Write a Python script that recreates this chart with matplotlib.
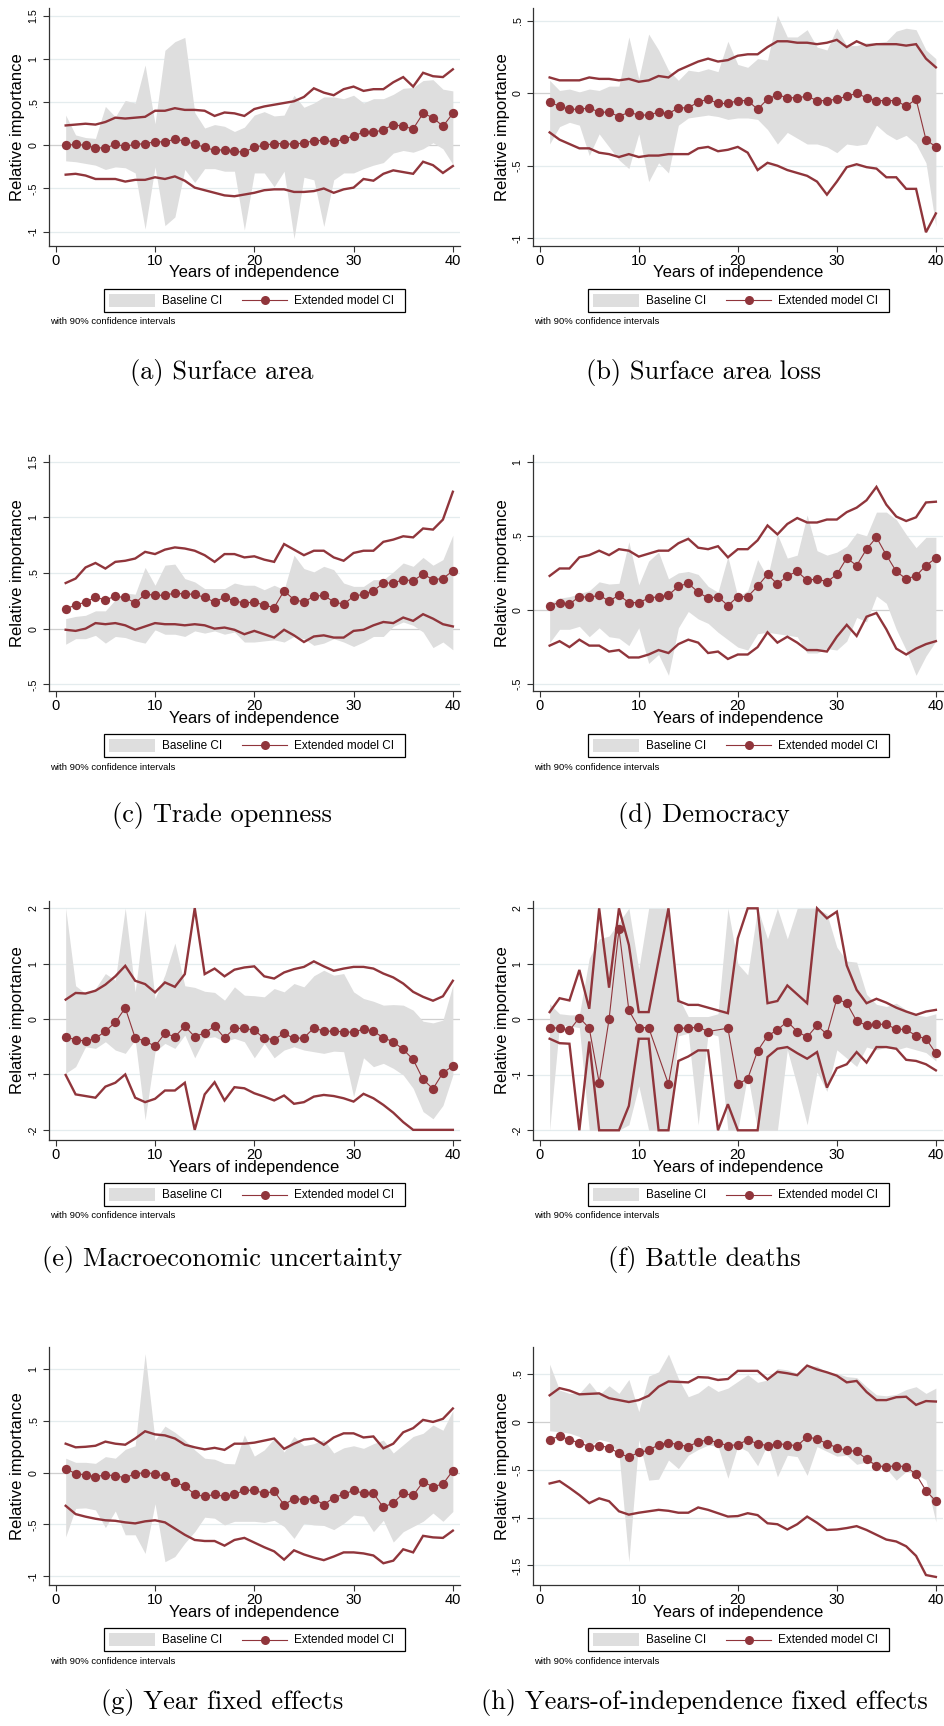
import numpy as np
import matplotlib
matplotlib.use('Agg')
import matplotlib.pyplot as plt
import matplotlib.ticker as mtick
from matplotlib.patches import Rectangle
from matplotlib.lines import Line2D

nan = np.nan
years = np.arange(1, 41)

# (a) Surface area
area_est = [0.0, 0.01, 0.0, -0.03, -0.03, 0.01, -0.01, 0.01, 0.02, 0.04, 0.04, 0.07, 0.05, 0.01, -0.02, -0.06, -0.05, -0.07, -0.08, -0.02,
            0.0, 0.02, 0.02, 0.01, 0.03, 0.05, 0.06, 0.04, 0.07, 0.11, 0.15, 0.15, 0.18, 0.24, 0.22, 0.19, 0.37, 0.32, 0.22, 0.37]
area_hi = [0.23, 0.24, 0.25, 0.24, 0.27, 0.32, 0.31, 0.32, 0.33, 0.40, 0.40, 0.43, 0.41, 0.41, 0.40, 0.34, 0.38, 0.37, 0.34, 0.42,
           0.45, 0.47, 0.49, 0.51, 0.56, 0.66, 0.61, 0.58, 0.65, 0.68, 0.63, 0.65, 0.65, 0.73, 0.79, 0.68, 0.84, 0.80, 0.79, 0.88]
area_lo = [-0.34, -0.33, -0.35, -0.39, -0.39, -0.39, -0.42, -0.40, -0.40, -0.37, -0.39, -0.36, -0.41, -0.49, -0.52, -0.55, -0.58, -0.59, -0.57, -0.55,
           -0.52, -0.51, -0.51, -0.54, -0.54, -0.53, -0.50, -0.55, -0.51, -0.49, -0.39, -0.41, -0.33, -0.29, -0.31, -0.33, -0.19, -0.23, -0.32, -0.24]
area_base_hi = [0.35, 0.12, 0.09, 0.08, 0.45, 0.33, 0.52, 0.49, 0.93, 0.25, 1.10, 1.20, 1.25, 0.38, 0.20, 0.24, 0.22, 0.16, 0.21, 0.35,
                0.39, 0.34, 0.35, 0.58, 0.44, 0.49, 0.56, 0.56, 0.54, 0.58, 0.49, 0.54, 0.54, 0.59, 0.66, 0.67, 0.75, 0.76, 0.65, 0.63]
area_base_lo = [-0.18, -0.19, -0.21, -0.23, -0.28, -0.25, -0.26, -0.32, -0.97, -0.25, -0.93, -0.83, -0.28, -0.43, -0.27, -0.27, -0.30, -0.30, -0.98, -0.32,
                -0.32, -0.48, -0.30, -1.08, -0.37, -0.40, -0.94, -0.40, -0.32, -0.32, -0.27, -0.23, -0.20, -0.09, -0.06, -0.08, -0.04, 0.03, -0.04, -0.22]

# (b) Surface area loss
loss_est = [-0.06, -0.09, -0.11, -0.11, -0.10, -0.13, -0.13, -0.16, -0.13, -0.15, -0.15, -0.13, -0.14, -0.10, -0.10, -0.06, -0.04, -0.07, -0.07, -0.05,
            -0.05, -0.11, -0.04, -0.01, -0.03, -0.03, -0.02, -0.05, -0.05, -0.04, -0.02, 0.0, -0.03, -0.05, -0.05, -0.05, -0.09, -0.04, -0.32, -0.37]
loss_hi = [0.11, 0.09, 0.09, 0.09, 0.11, 0.10, 0.10, 0.09, 0.10, 0.08, 0.09, 0.12, 0.11, 0.16, 0.19, 0.22, 0.24, 0.22, 0.23, 0.26,
           0.27, 0.27, 0.32, 0.36, 0.36, 0.35, 0.35, 0.34, 0.35, 0.37, 0.32, 0.36, 0.33, 0.34, 0.34, 0.34, 0.33, 0.34, 0.24, 0.18]
loss_lo = [-0.27, -0.32, -0.35, -0.38, -0.38, -0.41, -0.42, -0.44, -0.42, -0.44, -0.43, -0.43, -0.42, -0.42, -0.42, -0.38, -0.37, -0.40, -0.39, -0.37,
           -0.41, -0.53, -0.48, -0.50, -0.53, -0.55, -0.57, -0.61, -0.70, -0.61, -0.51, -0.49, -0.51, -0.52, -0.58, -0.58, -0.66, -0.66, -0.96, -0.83]
loss_base_hi = [0.09, 0.02, 0.03, 0.01, 0.03, 0.02, 0.05, 0.05, 0.39, 0.10, 0.41, 0.30, 0.16, 0.09, 0.16, 0.15, 0.17, 0.15, 0.36, 0.20,
                0.18, 0.24, 0.23, 0.54, 0.39, 0.39, 0.44, 0.32, 0.30, 0.45, 0.33, 0.33, 0.35, 0.35, 0.36, 0.43, 0.45, 0.44, 0.30, 0.24]
loss_base_lo = [-0.35, -0.23, -0.20, -0.22, -0.43, -0.28, -0.37, -0.46, -0.52, -0.28, -0.61, -0.48, -0.55, -0.22, -0.17, -0.16, -0.15, -0.16, -0.18, -0.17,
                -0.17, -0.18, -0.25, -0.35, -0.27, -0.31, -0.35, -0.35, -0.37, -0.41, -0.35, -0.36, -0.35, -0.22, -0.28, -0.32, -0.29, -0.35, -0.48, -0.92]

# (c) Trade openness
trade_est = [0.18, 0.21, 0.24, 0.28, 0.26, 0.29, 0.28, 0.23, 0.31, 0.30, 0.30, 0.32, 0.31, 0.31, 0.28, 0.24, 0.28, 0.25, 0.23, 0.24,
             0.21, 0.19, 0.34, 0.26, 0.24, 0.29, 0.30, 0.24, 0.22, 0.29, 0.31, 0.34, 0.41, 0.41, 0.44, 0.43, 0.49, 0.44, 0.45, 0.52]
trade_hi = [0.41, 0.45, 0.55, 0.59, 0.54, 0.60, 0.61, 0.63, 0.69, 0.67, 0.71, 0.73, 0.72, 0.70, 0.66, 0.60, 0.67, 0.67, 0.64, 0.65,
            0.62, 0.60, 0.76, 0.71, 0.66, 0.70, 0.70, 0.64, 0.61, 0.68, 0.70, 0.70, 0.78, 0.80, 0.83, 0.82, 0.90, 0.89, 0.98, 1.23]
trade_lo = [-0.01, -0.02, 0.0, 0.05, 0.04, 0.05, 0.03, -0.01, 0.02, 0.05, 0.04, 0.04, 0.03, 0.04, 0.03, 0.0, 0.01, -0.01, -0.05, -0.02,
            -0.05, -0.08, -0.01, -0.06, -0.12, -0.07, -0.06, -0.08, -0.08, -0.02, -0.01, 0.03, 0.06, 0.05, 0.10, 0.07, 0.13, 0.09, 0.04, 0.02]
trade_base_hi = [0.09, 0.11, 0.12, 0.16, 0.16, 0.26, 0.32, 0.31, 0.55, 0.39, 0.57, 0.58, 0.45, 0.42, 0.36, 0.36, 0.36, 0.41, 0.39, 0.39,
                 0.35, 0.39, 0.35, 0.66, 0.54, 0.51, 0.56, 0.53, 0.41, 0.38, 0.38, 0.44, 0.44, 0.51, 0.59, 0.56, 0.64, 0.57, 0.62, 0.84]
trade_base_lo = [-0.14, -0.09, -0.09, -0.06, -0.13, -0.07, -0.08, -0.11, -0.13, -0.01, -0.05, -0.05, -0.07, -0.02, -0.04, -0.02, -0.05, -0.03, -0.12, -0.12,
                 -0.11, -0.10, -0.12, -0.07, -0.09, -0.15, -0.13, -0.09, -0.12, -0.16, -0.12, -0.07, -0.07, 0.02, 0.06, 0.03, -0.03, -0.17, -0.12, -0.19]

# (d) Democracy
demo_est = [0.03, 0.05, 0.04, 0.09, 0.085, 0.10, 0.06, 0.10, 0.05, 0.05, 0.08, 0.09, 0.10, 0.16, 0.18, 0.12, 0.08, 0.09, 0.03, 0.09,
            0.09, 0.16, 0.24, 0.175, 0.23, 0.26, 0.20, 0.21, 0.19, 0.24, 0.35, 0.30, 0.41, 0.49, 0.37, 0.26, 0.21, 0.23, 0.30, 0.35]
demo_hi = [0.23, 0.28, 0.28, 0.355, 0.37, 0.40, 0.37, 0.41, 0.40, 0.36, 0.38, 0.40, 0.40, 0.45, 0.48, 0.42, 0.41, 0.43, 0.355, 0.41,
           0.41, 0.47, 0.57, 0.51, 0.58, 0.62, 0.59, 0.59, 0.61, 0.61, 0.66, 0.69, 0.74, 0.83, 0.71, 0.63, 0.60, 0.625, 0.725, 0.73]
demo_lo = [-0.24, -0.21, -0.25, -0.20, -0.24, -0.24, -0.28, -0.27, -0.32, -0.32, -0.30, -0.27, -0.29, -0.23, -0.20, -0.22, -0.29, -0.28, -0.33, -0.30,
           -0.30, -0.25, -0.15, -0.22, -0.18, -0.22, -0.27, -0.27, -0.28, -0.18, -0.10, -0.175, -0.045, -0.02, -0.13, -0.26, -0.30, -0.26, -0.23, -0.21]
demo_base_hi = [0.045, 0.08, 0.09, 0.11, 0.13, 0.19, 0.175, 0.18, 0.46, 0.17, 0.33, 0.39, 0.21, 0.25, 0.26, 0.24, 0.16, 0.12, 0.36, 0.09,
                0.13, 0.34, 0.22, 0.51, 0.35, 0.37, 0.64, 0.40, 0.37, 0.39, 0.43, 0.52, 0.50, 0.66, 0.66, 0.61, 0.51, 0.42, 0.49, 0.49]
demo_base_lo = [-0.22, -0.13, -0.13, -0.11, -0.18, -0.12, -0.18, -0.19, -0.24, -0.12, -0.36, -0.30, -0.44, -0.12, -0.01, -0.06, -0.09, -0.15, -0.20, -0.25,
                -0.27, -0.16, -0.15, -0.16, -0.17, -0.18, -0.29, -0.29, -0.26, -0.27, -0.21, -0.05, -0.08, 0.095, 0.045, -0.13, -0.27, -0.44, -0.31, -0.21]

# (e) Macroeconomic uncertainty
macro_est = [-0.33, -0.37, -0.40, -0.35, -0.22, -0.06, 0.20, -0.34, -0.40, -0.49, -0.26, -0.32, -0.13, -0.32, -0.25, -0.13, -0.34, -0.17, -0.17, -0.20,
             -0.35, -0.37, -0.26, -0.35, -0.34, -0.16, -0.22, -0.22, -0.23, -0.24, -0.18, -0.22, -0.34, -0.41, -0.55, -0.73, -1.09, -1.26, -0.97, -0.85]
macro_hi = [0.35, 0.47, 0.46, 0.51, 0.62, 0.77, 0.96, 0.69, 0.63, 0.48, 0.66, 0.58, 0.81, 2.0, 0.81, 0.91, 0.77, 0.89, 0.93, 0.95,
            0.77, 0.73, 0.84, 0.90, 0.94, 1.04, 0.95, 0.87, 0.91, 0.94, 0.94, 0.91, 0.82, 0.75, 0.64, 0.49, 0.40, 0.33, 0.41, 0.69]
macro_lo = [-1.01, -1.36, -1.39, -1.42, -1.22, -1.15, -1.00, -1.42, -1.50, -1.44, -1.29, -1.29, -1.15, -2.0, -1.36, -1.14, -1.47, -1.23, -1.25, -1.34,
            -1.40, -1.47, -1.38, -1.53, -1.50, -1.40, -1.37, -1.39, -1.43, -1.49, -1.35, -1.43, -1.55, -1.69, -1.86, -2.0, -2.0, -2.0, -2.0, -2.0]
macro_base_hi = [2.0, 0.60, 0.46, 0.55, 0.82, 0.70, 2.0, 0.49, 1.97, 0.37, 0.80, 1.37, 0.60, 0.57, 0.50, 0.48, 0.34, 0.58, 0.43, 0.42,
                 0.40, 0.55, 0.49, 0.64, 0.58, 0.78, 0.88, 0.79, 0.82, 0.49, 0.37, 0.32, 0.25, 0.26, 0.25, 0.16, -0.04, -0.07, -0.02, 0.61]
macro_base_lo = [-0.98, -0.86, -0.50, -0.53, -0.41, -0.56, -0.62, -0.38, -1.82, -0.59, -0.44, -0.53, -0.29, -0.70, -0.35, -0.32, -0.41, -0.35, -0.41, -0.70,
                 -0.44, -0.70, -0.56, -0.50, -0.56, -0.59, -0.62, -0.58, -0.59, -1.40, -0.70, -0.86, -0.80, -0.89, -1.01, -1.25, -1.67, -1.80, -1.56, -1.01]

# (f) Battle deaths (bounds capped at +/-2, some years missing)
battle_est = [-0.15, -0.16, -0.20, 0.03, -0.16, -1.14, 0.0, 1.62, 0.16, -0.15, -0.15, nan, -1.17, -0.16, -0.16, -0.14, -0.22, nan, -0.16, -1.17,
              -1.07, -0.57, -0.30, -0.19, -0.04, -0.22, -0.32, -0.11, -0.27, 0.37, 0.29, -0.03, -0.11, -0.09, -0.09, -0.18, -0.18, -0.30, -0.35, -0.61]
battle_hi = [0.13, 0.38, 0.34, 0.89, 0.19, 2.0, 0.57, 2.0, 1.34, 0.13, 0.13, nan, 2.0, 0.33, 0.26, 0.26, 0.21, nan, 0.11, 1.46,
             2.0, 2.0, 0.29, 0.33, 0.61, 0.45, 0.29, 2.0, 1.82, 1.94, 0.97, 0.53, 0.29, 0.37, 0.30, 0.21, 0.14, 0.08, 0.14, 0.17]
battle_lo = [-0.35, -0.43, -0.44, -2.0, -0.40, -2.0, -2.0, -2.0, -1.56, -0.35, -0.35, -2.0, -2.0, -0.75, -0.67, -0.56, -0.56, -2.0, -1.53, -2.0,
             -2.0, -2.0, -0.68, -0.53, -0.50, -0.61, -0.71, -0.59, -1.23, -0.88, -0.81, -0.59, -0.78, -0.50, -0.50, -0.53, -0.73, -0.75, -0.81, -0.92]
battle_base_hi = [0.28, 0.10, 0.08, 0.08, 1.10, 1.45, 1.50, 1.75, 2.0, 0.90, 2.0, 2.0, 2.0, 0.40, 0.05, 0.05, 0.05, 0.10, 2.0, 1.0,
                  0.80, 2.0, 1.45, 2.0, 1.45, 2.0, 2.0, 2.0, 1.90, 1.30, 1.05, 1.03, 0.45, 0.27, 0.23, 0.29, 0.17, 0.08, 0.05, 0.10]
battle_base_lo = [-2.0, -0.10, -0.12, -0.15, -2.0, -2.0, -2.0, -2.0, -1.90, -1.20, -2.0, -2.0, -2.0, -0.30, -0.25, -1.90, -0.25, -0.30, -2.0, -2.0,
                  -1.0, -2.0, -2.0, -2.0, -0.55, -1.20, -1.90, -0.95, -1.30, -0.55, -0.70, -0.85, -0.50, -0.55, -0.50, -0.55, -0.50, -0.55, -0.60, -0.75]

# (g) Year fixed effects
yfe_est = [0.04, -0.01, -0.02, -0.04, -0.02, -0.03, -0.05, -0.01, 0.0, -0.01, -0.035, -0.09, -0.13, -0.21, -0.23, -0.21, -0.23, -0.21, -0.17, -0.17,
           -0.20, -0.18, -0.31, -0.25, -0.26, -0.25, -0.31, -0.24, -0.21, -0.17, -0.20, -0.20, -0.335, -0.29, -0.20, -0.22, -0.09, -0.135, -0.11, 0.02]
yfe_hi = [0.28, 0.245, 0.25, 0.26, 0.30, 0.28, 0.27, 0.33, 0.40, 0.37, 0.36, 0.33, 0.27, 0.245, 0.225, 0.24, 0.22, 0.28, 0.28, 0.29,
          0.31, 0.33, 0.23, 0.28, 0.32, 0.33, 0.27, 0.34, 0.38, 0.38, 0.34, 0.35, 0.235, 0.28, 0.39, 0.43, 0.51, 0.49, 0.52, 0.62]
yfe_lo = [-0.32, -0.40, -0.425, -0.445, -0.46, -0.465, -0.48, -0.49, -0.47, -0.46, -0.48, -0.54, -0.60, -0.65, -0.66, -0.66, -0.705, -0.65, -0.63, -0.675,
          -0.72, -0.76, -0.84, -0.75, -0.79, -0.82, -0.845, -0.81, -0.77, -0.77, -0.78, -0.80, -0.875, -0.85, -0.74, -0.77, -0.61, -0.625, -0.63, -0.56]
yfe_base_hi = [0.14, 0.10, 0.10, 0.09, 0.155, 0.14, 0.225, 0.26, 1.15, 0.315, 0.45, 0.39, 0.315, 0.22, 0.14, 0.13, 0.09, 0.085, 0.365, 0.16,
               0.22, 0.33, 0.20, 0.35, 0.26, 0.28, 0.32, 0.19, 0.24, 0.26, 0.235, 0.28, 0.315, 0.19, 0.27, 0.35, 0.38, 0.46, 0.41, 0.60]
yfe_base_lo = [-0.62, -0.345, -0.34, -0.36, -0.53, -0.37, -0.60, -0.60, -0.78, -0.30, -0.86, -0.81, -0.68, -0.57, -0.43, -0.44, -0.505, -0.47, -0.47, -0.47,
               -0.48, -0.46, -0.52, -0.635, -0.49, -0.505, -0.51, -0.55, -0.49, -0.41, -0.42, -0.57, -0.46, -0.67, -0.57, -0.52, -0.47, -0.39, -0.47, -0.375]

# (h) Years-of-independence fixed effects
ife_est = [-0.19, -0.15, -0.19, -0.22, -0.26, -0.25, -0.27, -0.33, -0.37, -0.32, -0.30, -0.24, -0.22, -0.24, -0.26, -0.21, -0.19, -0.22, -0.25, -0.24,
           -0.19, -0.23, -0.25, -0.23, -0.24, -0.25, -0.16, -0.18, -0.23, -0.27, -0.30, -0.31, -0.39, -0.46, -0.47, -0.46, -0.47, -0.55, -0.72, -0.83]
ife_hi = [0.275, 0.35, 0.325, 0.285, 0.29, 0.295, 0.245, 0.225, 0.205, 0.225, 0.27, 0.365, 0.42, 0.415, 0.41, 0.465, 0.46, 0.435, 0.445, 0.53,
          0.53, 0.53, 0.44, 0.52, 0.505, 0.485, 0.585, 0.545, 0.515, 0.48, 0.41, 0.425, 0.31, 0.225, 0.225, 0.255, 0.26, 0.175, 0.215, 0.21]
ife_lo = [-0.645, -0.62, -0.69, -0.765, -0.85, -0.80, -0.83, -0.935, -0.97, -0.95, -0.935, -0.92, -0.93, -0.95, -0.95, -0.895, -0.92, -0.955, -0.99, -0.985,
          -0.955, -0.975, -1.06, -1.07, -1.125, -1.07, -0.99, -1.055, -1.13, -1.125, -1.11, -1.09, -1.13, -1.18, -1.23, -1.25, -1.30, -1.40, -1.60, -1.62]
ife_base_hi = [0.60, 0.33, 0.295, 0.295, 0.41, 0.28, 0.375, 0.295, 0.44, 0.105, 0.475, 0.52, 0.705, 0.45, 0.26, 0.30, 0.38, 0.315, 0.35, 0.42,
               0.49, 0.41, 0.435, 0.555, 0.54, 0.505, 0.575, 0.58, 0.51, 0.505, 0.47, 0.46, 0.365, 0.28, 0.27, 0.285, 0.335, 0.365, 0.295, 0.35]
ife_base_lo = [-0.095, -0.105, -0.12, -0.155, -0.26, -0.185, -0.21, -0.33, -1.46, -0.19, -0.61, -0.60, -0.40, -0.49, -0.35, -0.29, -0.245, -0.255, -0.59, -0.255,
               -0.31, -0.46, -0.235, -0.575, -0.35, -0.365, -0.56, -0.26, -0.31, -0.36, -0.35, -0.445, -0.42, -0.46, -0.49, -0.61, -0.52, -0.545, -0.61, -1.045]

captions = ['(a) Surface area', '(b) Surface area loss', '(c) Trade openness', '(d) Democracy',
            '(e) Macroeconomic uncertainty', '(f) Battle deaths', '(g) Year fixed effects',
            '(h) Years-of-independence fixed effects']

panels = [
    (area_est, area_hi, area_lo, area_base_hi, area_base_lo, (-1.166, 1.590), [-1, -0.5, 0, 0.5, 1, 1.5]),
    (loss_est, loss_hi, loss_lo, loss_base_hi, loss_base_lo, (-1.055, 0.590), [-1, -0.5, 0, 0.5]),
    (trade_est, trade_hi, trade_lo, trade_base_hi, trade_base_lo, (-0.560, 1.560), [-0.5, 0, 0.5, 1, 1.5]),
    (demo_est, demo_hi, demo_lo, demo_base_hi, demo_base_lo, (-0.546, 1.045), [-0.5, 0, 0.5, 1]),
    (macro_est, macro_hi, macro_lo, macro_base_hi, macro_base_lo, (-2.183, 2.129), [-2, -1, 0, 1, 2]),
    (battle_est, battle_hi, battle_lo, battle_base_hi, battle_base_lo, (-2.175, 2.132), [-2, -1, 0, 1, 2]),
    (yfe_est, yfe_hi, yfe_lo, yfe_base_hi, yfe_base_lo, (-1.085, 1.214), [-1, -0.5, 0, 0.5, 1]),
    (ife_est, ife_hi, ife_lo, ife_base_hi, ife_base_lo, (-1.704, 0.779), [-1.5, -1, -0.5, 0, 0.5]),
]

RED = '#90353b'
GRAY = '#dedede'
SANS = 'Liberation Sans'
W, H = 944, 1726

# page geometry in pixels
col_left = [49, 533]
col_right = [460, 943]
col_caption = [222, 704]
row_top = [8, 455, 901, 1347]
row_bottom = [246, 691, 1140, 1585]
row_caption = [372, 815, 1259, 1702]


def fx(x):
    return x / W


def fy(y):
    return 1 - y / H


def stata_fmt(v, pos):
    s = f'{v:g}'
    if 0 < abs(v) < 1:
        s = s.replace('0.', '.')
    return s


def connected(ax, y, **kw):
    # Stata connects across missing values
    y = np.asarray(y, dtype=float)
    ok = ~np.isnan(y)
    ax.plot(years[ok], y[ok], **kw)


fig = plt.figure(figsize=(W / 100, H / 100), dpi=100)

for i, (est, hi, lo, bhi, blo, ylim, yticks) in enumerate(panels):
    c, r = i % 2, i // 2
    L, R, T, B = col_left[c], col_right[c], row_top[r], row_bottom[r]
    ax = fig.add_axes([fx(L), fy(B), (R - L) / W, (B - T) / H])

    for t in yticks:
        ax.axhline(t, color='#cfcfcf' if t == 0 else '#e4ecee', lw=0.9, zorder=0)
    ax.fill_between(years, blo, bhi, color=GRAY, lw=0, zorder=1)
    connected(ax, hi, color=RED, lw=1.7, zorder=2, solid_joinstyle='miter')
    connected(ax, lo, color=RED, lw=1.7, zorder=2, solid_joinstyle='miter')
    connected(ax, est, color=RED, lw=0.8, marker='o', ms=6.7, mec='none', zorder=3)

    ax.set_xlim(-0.68, 40.72)
    ax.set_ylim(*ylim)
    ax.set_xticks([0, 10, 20, 30, 40])
    ax.set_yticks(yticks)
    ax.yaxis.set_major_formatter(mtick.FuncFormatter(stata_fmt))
    for s in ('top', 'right'):
        ax.spines[s].set_visible(False)
    for s in ('left', 'bottom'):
        ax.spines[s].set_color('#333333')
        ax.spines[s].set_linewidth(0.9)
    ax.tick_params(axis='x', length=4, width=0.8, color='#333333', pad=1.5, labelsize=10.5)
    ax.tick_params(axis='y', length=4, width=0.8, color='#333333', pad=3.5, labelsize=7.7)
    for lab in ax.get_xticklabels() + ax.get_yticklabels():
        lab.set_fontfamily(SANS)
    for lab in ax.get_yticklabels():
        lab.set_rotation(90)
        lab.set_va('center')

    mid = (L + R) / 2
    fig.text(fx(L - 31), fy((T + B) / 2), 'Relative importance', rotation=90,
             ha='center', va='center', fontsize=12, family=SANS)
    fig.text(fx(mid), fy(B + 27), 'Years of independence', ha='center', va='center',
             fontsize=12, family=SANS)

    # legend box
    lx = L + 55
    fig.add_artist(Rectangle((fx(lx), fy(B + 66)), 301 / W, 23 / H, transform=fig.transFigure,
                             fill=False, ec='black', lw=0.9))
    fig.add_artist(Rectangle((fx(lx + 5), fy(B + 61)), 46 / W, 13 / H, transform=fig.transFigure,
                             fc=GRAY, ec='none'))
    fig.text(fx(lx + 58), fy(B + 54.5), 'Baseline CI', ha='left', va='center', fontsize=8.5, family=SANS)
    fig.add_artist(Line2D([fx(lx + 138), fx(lx + 160.5), fx(lx + 183)], [fy(B + 54.5)] * 3,
                          transform=fig.transFigure, color=RED, lw=0.8, marker='o', ms=6.5,
                          mec='none', markevery=[1]))
    fig.text(fx(lx + 190), fy(B + 54.5), 'Extended model CI', ha='left', va='center', fontsize=8.5, family=SANS)
    fig.text(fx(L + 1.5), fy(B + 76), 'with 90% confidence intervals', ha='left', va='center',
             fontsize=6.8, family=SANS)

    fig.text(fx(col_caption[c]), fy(row_caption[r]), captions[i], ha='center', va='center',
             fontsize=19, family='cmr10')

fig.savefig('out.png', dpi=100, facecolor='white')
